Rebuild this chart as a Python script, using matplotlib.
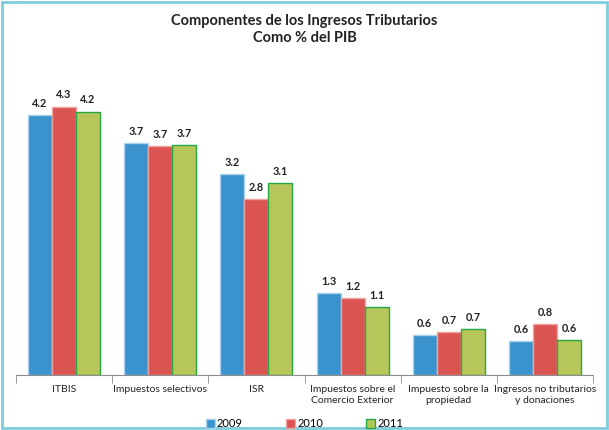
import numpy as np
import matplotlib
matplotlib.use("Agg")
import matplotlib.pyplot as plt
from matplotlib.patches import Rectangle

plt.rcParams['font.family'] = ['Lato', 'DejaVu Sans']

# Datos (% del PIB)
categorias = ["ITBIS", "Impuestos selectivos", "ISR",
              "Impuestos sobre el\nComercio Exterior",
              "Impuesto sobre la\npropiedad",
              "Ingresos no tributarios\ny donaciones"]
anios = ["2009", "2010", "2011"]
v2009 = [4.20, 3.75, 3.25, 1.32, 0.65, 0.55]
v2010 = [4.34, 3.70, 2.84, 1.24, 0.69, 0.82]
v2011 = [4.26, 3.72, 3.10, 1.10, 0.74, 0.57]
etiquetas_2009 = ["4.2", "3.7", "3.2", "1.3", "0.6", "0.6"]
etiquetas_2010 = ["4.3", "3.7", "2.8", "1.2", "0.7", "0.8"]
etiquetas_2011 = ["4.2", "3.7", "3.1", "1.1", "0.7", "0.6"]

colores = ["#3A93CD", "#DA5551", "#B6C65B"]
bordes = ["#A8D2EE", "#F0A3A1", "#27A844"]

fig = plt.figure(figsize=(6.09, 4.30), dpi=100)
ax = fig.add_axes([0.026, 0.128, 0.948, 0.686])

x = np.arange(len(categorias))
ancho = 0.25
series = [v2009, v2010, v2011]
etiquetas = [etiquetas_2009, etiquetas_2010, etiquetas_2011]

for i, (vals, labs) in enumerate(zip(series, etiquetas)):
    barras = ax.bar(x + (i - 1) * ancho, vals, ancho, color=colores[i],
                    edgecolor=bordes[i], linewidth=1.0, label=anios[i])
    for b, t in zip(barras, labs):
        ax.text(b.get_x() + b.get_width() / 2, b.get_height() + 0.1, t,
                ha="center", va="bottom", fontsize=7.8, fontweight="bold",
                color="#222222")

ax.set_xlim(-0.5, len(categorias) - 0.5)
ax.set_ylim(0, 4.77)
ax.set_yticks([])
for s in ["top", "right", "left"]:
    ax.spines[s].set_visible(False)
ax.spines["bottom"].set_color("#8C8C8C")

ax.set_xticks(x)
ax.set_xticklabels(categorias, fontsize=7.5, color="#222222", linespacing=1.4)
ax.tick_params(axis="x", which="major", length=0, pad=7)
ax.set_xticks(np.arange(-0.5, len(categorias)), minor=True)
ax.tick_params(axis="x", which="minor", length=6, color="#8C8C8C",
               direction="out")

fig.text(0.5, 0.968, "Componentes de los Ingresos Tributarios\nComo % del PIB",
         ha="center", va="top", fontsize=10.5, fontweight="bold",
         color="#222222", linespacing=1.3)

fig.legend(loc="lower center", bbox_to_anchor=(0.5, -0.022), ncol=3,
           frameon=False, fontsize=8, handlelength=0.8, handleheight=0.8,
           handletextpad=0.2, columnspacing=3.9)

fig.patches.append(Rectangle((0.003, 0.004), 0.994, 0.992,
                             transform=fig.transFigure, fill=False,
                             edgecolor="#7FCCDC", linewidth=2))

fig.savefig("out.png", dpi=100)
